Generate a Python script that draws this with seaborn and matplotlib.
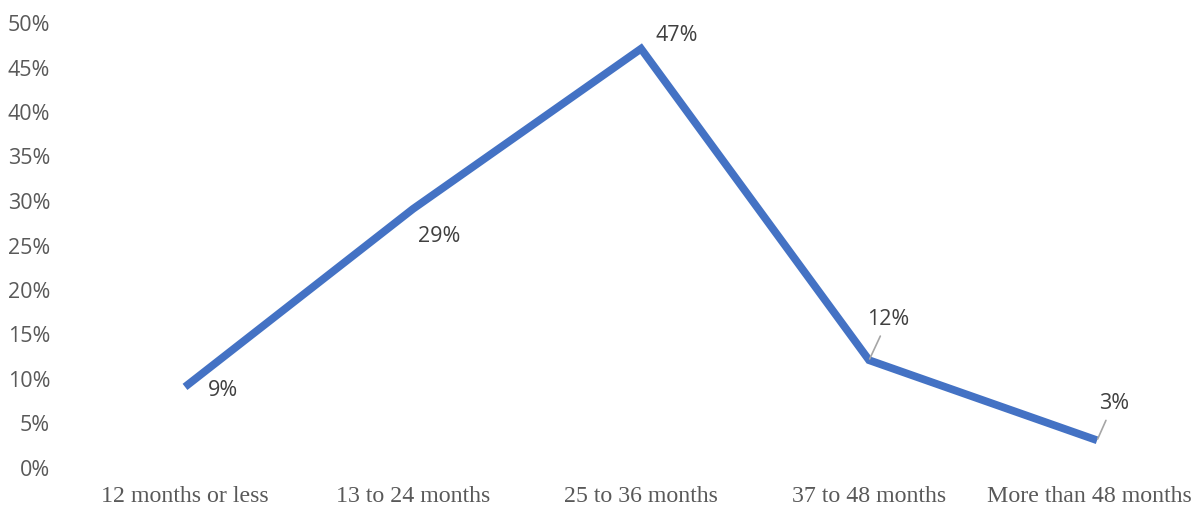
import matplotlib
matplotlib.use("Agg")
import matplotlib.pyplot as plt
import matplotlib.transforms as mtransforms
import seaborn as sns
import pandas as pd

# data
categories = ["12 months or less", "13 to 24 months", "25 to 36 months",
              "37 to 48 months", "More than 48 months"]
shares = [0.09, 0.29, 0.47, 0.12, 0.03]
labels = ["9%", "29%", "47%", "12%", "3%"]

sns.set_theme(style="white")
plt.rcParams['font.family'] = ['Open Sans', 'DejaVu Sans']

fig = plt.figure(figsize=(11.94, 5.06), dpi=100)
ax = fig.add_axes([71 / 1194, 38 / 506, 1123 / 1194, 445 / 506])

df = pd.DataFrame({"pos": range(len(categories)), "share": shares})
sns.lineplot(data=df, x="pos", y="share", ax=ax, color="#4472C4",
             linewidth=5.6, solid_capstyle="butt", solid_joinstyle="miter")

ax.set_xlim(-0.5, 4.425)
ax.set_ylim(0, 0.5)
ax.set_yticks([i / 100 for i in range(0, 51, 5)])
ax.set_yticklabels([f"{i}%" for i in range(0, 51, 5)], color="#595959", fontsize=15.5)
ax.set_xticks(range(len(categories)))
ax.set_xticklabels(categories, family="Liberation Serif", fontsize=17.2, color="#595959")
ax.tick_params(axis="x", length=0, pad=13)
ax.tick_params(axis="y", length=0, pad=15)
ax.set_xlabel("")
ax.set_ylabel("")
sns.despine(ax=ax, left=True, bottom=True)

# last category label is nudged left so it fits inside the figure
last = ax.get_xticklabels()[-1]
last.set_transform(last.get_transform() +
                   mtransforms.ScaledTranslation(-8 / 100, 0, fig.dpi_scale_trans))

# label offsets in points, the last two get leader lines
offsets = [(27, -2), (19, -19), (26, 10), (14, 30), (12, 27)]
leader = [False, False, False, True, True]
for i, (txt, off, ld) in enumerate(zip(labels, offsets, leader)):
    kw = {}
    if ld:
        kw["arrowprops"] = dict(arrowstyle="-", color="#A6A6A6", lw=1.2,
                                shrinkA=3, shrinkB=1)
    ax.annotate(txt, (i, shares[i]), xytext=off, textcoords="offset points",
                ha="center", va="center", fontsize=15.5, color="#404040", **kw)

fig.savefig("out.png", dpi=100)
